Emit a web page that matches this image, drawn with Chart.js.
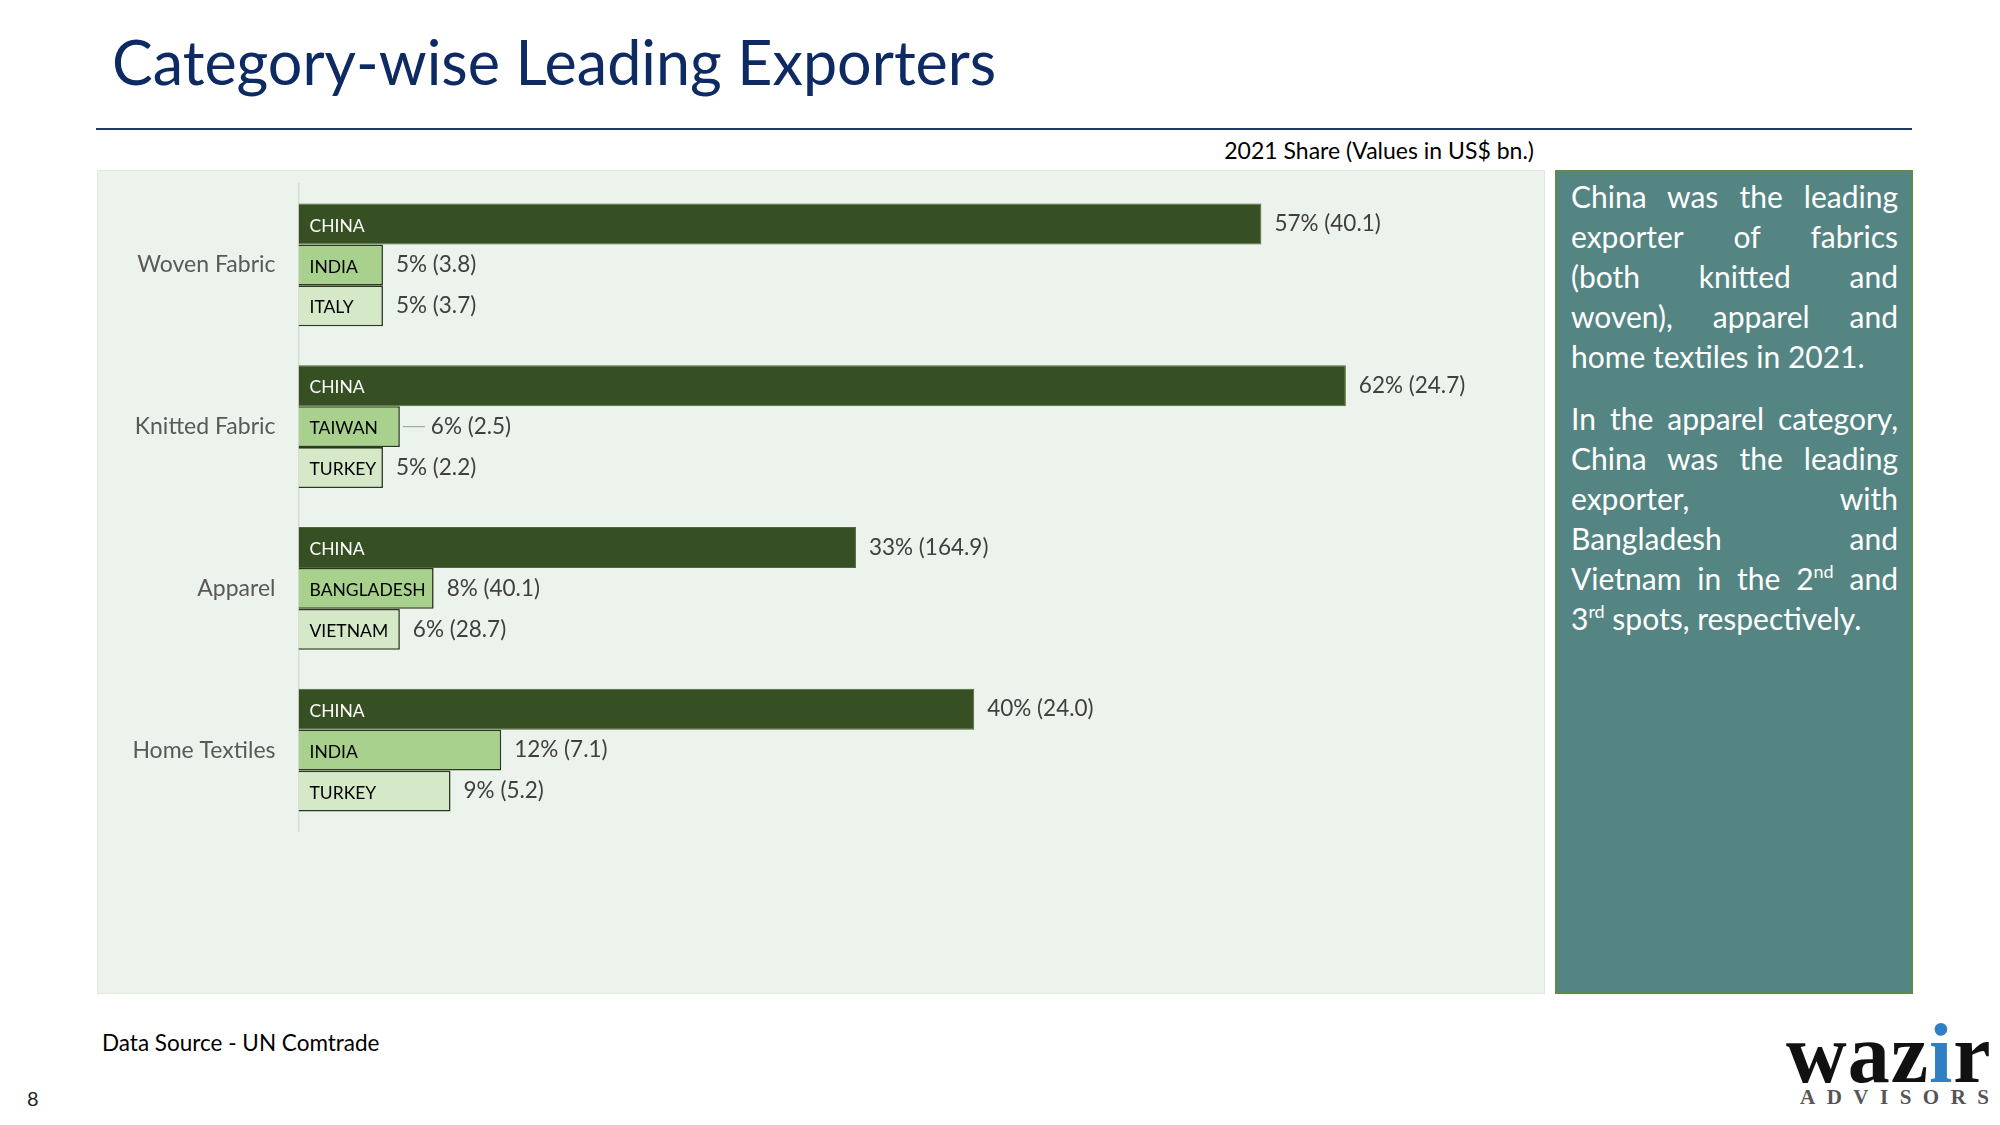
<!DOCTYPE html>
<html>
<head>
<meta charset="utf-8">
<script src="https://cdn.jsdelivr.net/npm/chart.js@4.4.1/dist/chart.umd.min.js"></script>
<style>
  html, body { margin:0; padding:0; background:#fff; }
  body { width:2000px; height:1125px; position:relative; overflow:hidden; font-family:Lato, "Noto Sans", sans-serif; }
  .abs { position:absolute; }
  #title { left:112px; top:22px; font-size:61px; color:#0e2a63; white-space:nowrap; line-height:80px; }
  #rule { left:96px; top:128px; width:1816px; height:2px; background:#1f3864; }
  #subtitle { right:466px; top:136px; font-size:23px; color:#000; line-height:28px; white-space:nowrap; }
  #panel { left:97px; top:170px; width:1446px; height:822px; background:#ecf2ec; border:1px solid #e1e9e0; }
  #chartWrap { left:97px; top:170px; width:1448px; height:824px; }
  #side { left:1555px; top:170px; width:354px; height:820px; background:#548583; border:2px solid #5f8a4c; }
  .ln { position:absolute; left:1571px; width:327px; height:40px; line-height:40px; font-size:30px; color:#fff; white-space:nowrap; }
  .j { text-align:justify; text-align-last:justify; white-space:normal; }
  sup { font-size:0.6em; vertical-align:baseline; position:relative; top:-12px; line-height:normal; }
  #source { left:102px; top:1029px; font-size:22.5px; color:#000; line-height:28px; white-space:nowrap; }
  #page { left:27px; top:1086px; font-size:20px; color:#222; line-height:24px; }
  #logo { left:1786px; top:1012px; font-family:"Liberation Serif", "DejaVu Serif", serif; font-weight:bold; font-size:84px; line-height:84px; color:#111; letter-spacing:1px; }
  #logo span { color:#2e7fc4; }
  #adv { left:1800px; top:1086px; font-family:"Liberation Serif", "DejaVu Serif", serif; font-weight:bold; font-size:21px; color:#555; letter-spacing:11.5px; line-height:22px; }
</style>
</head>
<body>
<div id="title" class="abs">Category-wise Leading Exporters</div>
<div id="rule" class="abs"></div>
<div id="subtitle" class="abs">2021 Share (Values in US$ bn.)</div>
<div id="panel" class="abs"></div>
<div id="chartWrap" class="abs"><canvas id="c" width="1448" height="824"></canvas></div>
<div id="side" class="abs"></div>
<div class="ln j" style="top:176px">China was the leading</div>
<div class="ln j" style="top:216px">exporter of fabrics</div>
<div class="ln j" style="top:256px">(both knitted and</div>
<div class="ln j" style="top:296px">woven), apparel and</div>
<div class="ln" style="top:336px">home textiles in 2021.</div>
<div class="ln j" style="top:398px">In the apparel category,</div>
<div class="ln j" style="top:438px">China was the leading</div>
<div class="ln j" style="top:478px">exporter, with</div>
<div class="ln j" style="top:518px">Bangladesh and</div>
<div class="ln j" style="top:558px">Vietnam in the 2<sup>nd</sup> and</div>
<div class="ln" style="top:598px">3<sup>rd</sup> spots, respectively.</div>
<div id="source" class="abs">Data Source - UN Comtrade</div>
<div id="page" class="abs">8</div>
<div id="logo" class="abs">waz<span>i</span>r</div>
<div id="adv" class="abs">ADVISORS</div>

<script>
const categories = ['Woven Fabric', 'Knitted Fabric', 'Apparel', 'Home Textiles'];

const rank1Names = ['CHINA', 'CHINA', 'CHINA', 'CHINA'];
const rank1Share = [57, 62, 33, 40];
const rank1Value = [40.1, 24.7, 164.9, 24.0];

const rank2Names = ['INDIA', 'TAIWAN', 'BANGLADESH', 'INDIA'];
const rank2Share = [5, 6, 8, 12];
const rank2Value = [3.8, 2.5, 40.1, 7.1];

const rank3Names = ['ITALY', 'TURKEY', 'VIETNAM', 'TURKEY'];
const rank3Share = [5, 5, 6, 9];
const rank3Value = [3.7, 2.2, 28.7, 5.2];

const names = [rank1Names, rank2Names, rank3Names];
const values = [rank1Value, rank2Value, rank3Value];

const labelFont = '22.5px Lato';
const nameFont = '17.5px Lato';

const labelPlugin = {
  id: 'barLabels',
  afterDatasetsDraw(chart) {
    const ctx = chart.ctx;
    const area = chart.chartArea;
    chart.data.datasets.forEach((ds, di) => {
      const meta = chart.getDatasetMeta(di);
      meta.data.forEach((bar, i) => {
        ctx.save();
        ctx.font = nameFont;
        ctx.textBaseline = 'middle';
        ctx.textAlign = 'left';
        ctx.fillStyle = di === 0 ? '#ffffff' : '#000000';
        ctx.fillText(names[di][i], area.left + 11, bar.y + 2);
        const txt = ds.data[i] + '% (' + values[di][i].toFixed(1) + ')';
        ctx.font = labelFont;
        ctx.fillStyle = '#404040';
        let x = bar.x + 13;
        if (di === 1 && i === 1) {
          ctx.strokeStyle = '#a6a6a6';
          ctx.lineWidth = 1.2;
          ctx.beginPath();
          ctx.moveTo(bar.x + 3, bar.y);
          ctx.lineTo(bar.x + 25, bar.y);
          ctx.stroke();
          x = bar.x + 31;
        }
        ctx.fillText(txt, x, bar.y);
        ctx.restore();
      });
    });
  }
};

new Chart(document.getElementById('c'), {
  type: 'bar',
  data: {
    labels: categories,
    datasets: [
      { label: 'Rank 1', data: rank1Share, backgroundColor: '#375023', borderColor: '#4d6a36', borderWidth: 1 },
      { label: 'Rank 2', data: rank2Share, backgroundColor: '#a9d18e', borderColor: '#2a3a1e', borderWidth: 1.6 },
      { label: 'Rank 3', data: rank3Share, backgroundColor: '#d5e8c8', borderColor: '#2a3a1e', borderWidth: 1.6 }
    ]
  },
  options: {
    indexAxis: 'y',
    responsive: false,
    animation: false,
    events: [],
    categoryPercentage: 0.76,
    barPercentage: 1.0,
    layout: { padding: { left: 0, right: 64, top: 14, bottom: 163 } },
    plugins: { legend: { display: false }, title: { display: false }, tooltip: { enabled: false } },
    scales: {
      x: { display: false, min: 0, max: 70 },
      y: {
        afterFit(scale) { scale.width = 201.5; scale.paddingTop = 0; scale.paddingBottom = 0; },
        grid: { display: false, drawTicks: false },
        border: { display: true, color: '#d6dcd6', width: 1.5 },
        ticks: { color: '#595959', font: { family: 'Lato', size: 23 }, padding: 23 }
      }
    }
  },
  plugins: [labelPlugin]
});
</script>
</body>
</html>
